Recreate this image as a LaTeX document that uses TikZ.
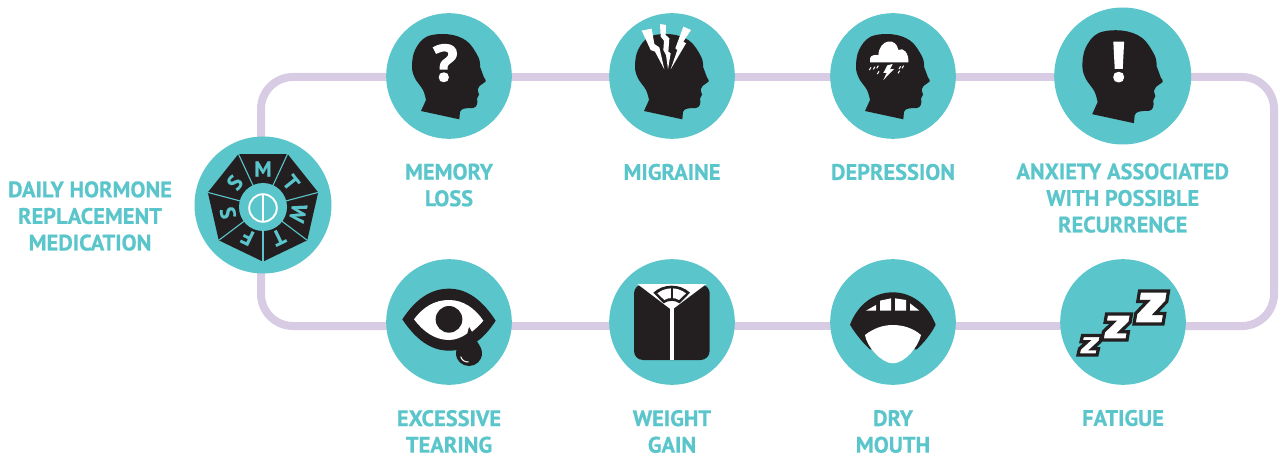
\documentclass[tikz,border=0pt]{standalone}
\usepackage{fontspec}
\setmainfont{PT Sans}[BoldFeatures={FakeBold=0.6}]
\newfontfamily\iconfont{Open Sans}[BoldFeatures={FakeBold=3}]
\usetikzlibrary{backgrounds,calc}
\definecolor{teal1}{HTML}{5AC5CA}
\definecolor{ink}{HTML}{231F20}
\definecolor{lilac}{HTML}{D8CBE4}
\tikzset{
  disc/.style={circle,fill=teal1,inner sep=0pt,minimum size=125.6pt},
  bigdisc/.style={circle,fill=teal1,inner sep=0pt,minimum size=137pt},
  label/.style={text=teal1,font=\bfseries\fontsize{22.4}{26.6}\selectfont,align=center,inner sep=0pt},
  track/.style={draw=lilac,line width=8pt,rounded corners=32pt},
  glyph/.style={text=white,font=\iconfont\bfseries\fontsize{50}{50}\selectfont,inner sep=0pt},
  zee/.style={draw=ink,fill=white,line width=3.2pt,miter limit=4},
  zoomed/.style={x=0.33333pt,y=-0.33333pt},
  headicon/.pic={
    \fill[ink] (-28,35) -- (10.3,43.3) -- (11,36)
      .. controls (12,32.5) and (16,32) .. (24,32)
      .. controls (28,31.5) and (29,27) .. (28,22.5)
      -- (30,18.5) .. controls (30,16) and (28,15) .. (28.7,13.5)
      -- (30.5,10) -- (36.7,5.5) .. controls (37.2,4) and (36,3) .. (35,1.5)
      -- plot[smooth,tension=.6] coordinates {(31,-9.3) (29.3,-19) (17.7,-35) (-0.7,-41.7) (-22.3,-39.3) (-34,-26) (-37,-9.3) (-34,2.3) (-26,14) (-23,24)} -- cycle;
  }
}
\newcommand{\zeeglyph}[5]{\draw[zee,shift={(#1,#2)},x={(#3pt,0pt)},y={(#5pt,#4pt)}]
  (0,1)--(1,1)--(1,.68)--(.68,.32)--(1,.32)--(1,0)--(0,0)--(0,.32)--(.32,.68)--(0,.68)--cycle;}
\begin{document}
\begin{tikzpicture}[x=1pt,y=-1pt]
\useasboundingbox (0,0) rectangle (1279,457);
\node[bigdisc] (hormone) at (263,205) {};
\node[disc] (memory) at (449,76) {};
\node[disc] (migraine) at (672,76) {};
\node[disc] (depression) at (893,76) {};
\node[bigdisc] (anxiety) at (1122.7,76) {};
\node[disc] (fatigue) at (1123,322) {};
\node[disc] (dry) at (893,322) {};
\node[disc] (weight) at (672,322) {};
\node[disc] (tearing) at (449,322) {};
\coordinate (tl) at (261,77);
\coordinate (tr) at (1274,77);
\coordinate (br) at (1274,326);
\coordinate (bl) at (261,326);
\begin{scope}[on background layer]
\draw[track] (tl |- hormone.center) -- (tl) -- (memory.center |- tl);
\draw[track] (memory.center |- tl) -- (migraine.center |- tl);
\draw[track] (migraine.center |- tl) -- (depression.center |- tl);
\draw[track] (depression.center |- tl) -- (anxiety.center |- tl);
\draw[track] (anxiety.center |- tl) -- (tr) -- (br) -- (fatigue.center |- br);
\draw[track] (fatigue.center |- br) -- (dry.center |- br);
\draw[track] (dry.center |- br) -- (weight.center |- br);
\draw[track] (weight.center |- br) -- (tearing.center |- br);
\draw[track] (tearing.center |- br) -- (bl) -- (bl |- hormone.center);
\end{scope}

% labels
\node[label] (lh) at (90,216) {DAILY HORMONE\\REPLACEMENT\\MEDICATION};
\node[label] (lm) at (449,185) {MEMORY\\LOSS};
\node[label] (lmi) at (672,172) {MIGRAINE};
\node[label] (ld) at (893,172) {DEPRESSION};
\node[label] (la) at (1122.7,198) {ANXIETY ASSOCIATED\\WITH POSSIBLE\\RECURRENCE};
\node[label] (lt) at (449,431.5) {EXCESSIVE\\TEARING};
\node[label] (lw) at (672,431.5) {WEIGHT\\GAIN};
\node[label] (ldm) at (893,431.5) {DRY\\MOUTH};
\node[label] (lf) at (1123,418) {FATIGUE};

% pill wheel
\begin{scope}[shift={(hormone.center)}]
\fill[ink] (90:56.6) \foreach \k in {1,...,6} { -- ({90+\k*360/7}:56.6) } -- cycle;
\foreach \k in {0,...,6} \draw[teal1,line width=1.1pt] (0,2) -- ({90+\k*360/7}:56.6);
\fill[teal1] (0,2) circle (24);
\draw[white,line width=1.9pt] (0,3) circle (13.8);
\draw[white,line width=1.5pt] (0,-10.8) -- (0,16.8);
\foreach \k/\t in {0/M,1/T,2/W,3/T,4/F,5/S,6/S}
  \node[text=teal1,font=\bfseries\fontsize{21.5}{21.5}\selectfont,inner sep=0pt,rotate={-\k*360/7}] at ({-90+\k*360/7}:36) {\t};
\end{scope}

% heads
\pic at (memory.center) {headicon};
\pic at (migraine.center) {headicon};
\pic at (depression.center) {headicon};
\pic[scale=1.09] at (anxiety.center) {headicon};
\node[glyph] at ($(memory.center)+(-3.5,-13)$) {?};
\node[glyph,font=\iconfont\bfseries\fontsize{54}{54}\selectfont] at ($(anxiety.center)+(-4,-14)$) {!};

% migraine bolts
\begin{scope}[shift={(600,0)},zoomed]
\fill[white] (125,92)--(155,86)--(163,132)--(178,142)--(193,208)--(165,155)--(152,150)--cycle;
\fill[white] (180,72)--(198,75)--(197,105)--(208,115)--(205,155)--(212,160)--(204,208)--(198,165)--(190,150)--(192,122)--(182,110)--cycle;
\fill[white] (250,80)--(273,90)--(250,125)--(258,130)--(212,208)--(232,150)--(226,145)--cycle;
\end{scope}

% storm cloud
\begin{scope}[shift={(600,0)},zoomed]
\fill[white] (810,187) -- (810,175) .. controls (812,166) and (825,163) .. (835,166)
  .. controls (838,115) and (890,112) .. (895,150)
  .. controls (910,140) and (927,160) .. (925,187) -- cycle;
\foreach \a/\b in {808/210,820/208,832/222,894/220,906/205,897/207,830/205}
  \draw[white,line width=1pt] (\a,\b) -- +(5,-8);
\fill[white] (862,196)--(878,192)--(870,208)--(882,207)--(850,240)--(860,219)--(850,219)--cycle;
\end{scope}

% eye
\begin{scope}[shift={(370,250)},zoomed]
\fill[ink] (97,208) .. controls (135,150) and (180,116) .. (237,116)
  .. controls (295,116) and (340,155) .. (377,212)
  .. controls (340,270) and (295,302) .. (237,302)
  .. controls (180,302) and (135,265) .. (97,208) -- cycle;
\fill[ink] (297,240) .. controls (310,265) and (336,285) .. (336,310)
  .. controls (336,332) and (318,348) .. (297,348)
  .. controls (276,348) and (258,332) .. (258,310)
  .. controls (258,285) and (285,265) .. (297,240) -- cycle;
\fill[white] (132,208) .. controls (160,170) and (195,150) .. (237,150)
  .. controls (280,150) and (315,175) .. (340,212)
  .. controls (330,225) and (318,235) .. (306,245) -- (297,230) -- (292,250)
  .. controls (275,263) and (255,270) .. (237,270)
  .. controls (195,270) and (160,245) .. (132,208) -- cycle;
\fill[ink] (237,208) circle (40);
\draw[white,line width=1pt] (272,320) .. controls (276,332) and (285,336) .. (296,336);
\end{scope}

% scale
\begin{scope}[shift={(370,250)},zoomed]
\fill[ink,rounded corners=9pt] (792,103) rectangle (1019,330);
\fill[white] (802,102)--(1009,102)--(905,180)--cycle;
\fill[white] (900,175) rectangle (911,331);
\fill[ink] (905,107) .. controls (925,107) and (945,114) .. (960,128)
  -- (929,160) .. controls (915,150) and (895,150) .. (881,160)
  -- (850,128) .. controls (865,114) and (885,107) .. (905,107) -- cycle;
\fill[white] (905,115) .. controls (920,115) and (935,120) .. (948,130)
  -- (927,150) .. controls (915,142) and (895,142) .. (883,150)
  -- (862,130) .. controls (875,120) and (890,115) .. (905,115) -- cycle;
\draw[ink,line width=1.8pt] (905,113) -- (905,146);
\end{scope}

% mouth
\begin{scope}[shift={(820,250)},zoomed]
\fill[ink] (90,224) .. controls (115,160) and (165,127) .. (218,127)
  .. controls (272,127) and (322,160) .. (347,224)
  .. controls (335,250) and (310,280) .. (290,298) -- (150,298)
  .. controls (130,280) and (105,250) .. (90,224) -- cycle;
\fill[white] (135,255) .. controls (160,235) and (190,225) .. (218,225)
  .. controls (250,225) and (280,235) .. (303,255)
  .. controls (295,290) and (255,340) .. (218,340)
  .. controls (185,340) and (140,290) .. (135,255) -- cycle;
\fill[white] (138,182)--(168,165)--(168,182)--cycle;
\fill[white] (180,182)--(180,152)--(213,145)--(213,182)--cycle;
\fill[white] (225,145)--(258,150)--(258,182)--(225,182)--cycle;
\fill[white] (270,160)--(298,182)--(270,182)--cycle;
\end{scope}

% zzz
\zeeglyph{1078}{355}{19}{19.5}{4.5}
\zeeglyph{1102}{340}{25}{26}{4.5}
\zeeglyph{1134}{324}{29}{33}{5.5}
\end{tikzpicture}
\end{document}
